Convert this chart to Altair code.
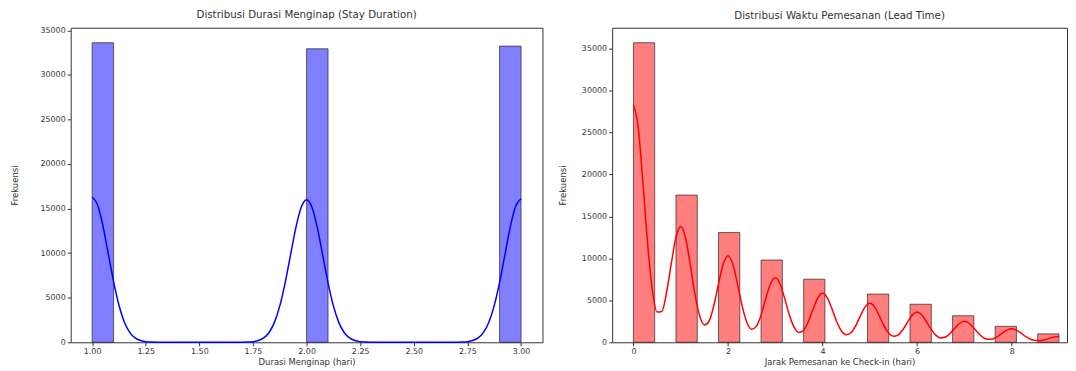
import altair as alt
import pandas as pd

# ---- Left panel: stay duration ----
stay_values = [1, 2, 3]
stay_counts = [33600, 32920, 33220]
stay_bins = 20
stay_range = [1.0, 3.0]

stay_kde_x = [1.0, 1.025, 1.05, 1.075, 1.1, 1.125, 1.15, 1.175, 1.2, 1.225, 1.25, 1.275, 1.3, 1.4, 1.5, 1.6,
              1.7, 1.725, 1.75, 1.775, 1.8, 1.825, 1.85, 1.875, 1.9, 1.925, 1.95, 1.975,
              2.0, 2.025, 2.05, 2.075, 2.1, 2.125, 2.15, 2.175, 2.2, 2.225, 2.25, 2.275, 2.3,
              2.4, 2.5, 2.6,
              2.7, 2.725, 2.75, 2.775, 2.8, 2.825, 2.85, 2.875, 2.9, 2.925, 2.95, 2.975, 3.0]
stay_kde_y = [16300, 15436, 13099, 9959, 6797, 4157, 2275, 1118, 492, 194, 68, 22, 7, 0, 0, 0,
              6, 21, 67, 190, 483, 1098, 2234, 4080, 6672, 9776, 12858, 15152,
              16000, 15152, 12858, 9776, 6672, 4080, 2234, 1098, 483, 190, 67, 21, 6,
              0, 0, 0,
              6, 22, 68, 192, 486, 1104, 2248, 4106, 6714, 9837, 12938, 15247, 16100]

# ---- Right panel: lead time ----
lead_values = [0, 1, 2, 3, 4, 5, 6, 7, 8, 9]
lead_counts = [35700, 17540, 13075, 9800, 7515, 5740, 4530, 3160, 1900, 1000]
lead_bins = 20
lead_range = [0.0, 9.0]

lead_kde_y = [
    28300, 25645, 19127, 11770, 6257, 3596, 3675, 5912, 9366, 12513,
    13800, 12507, 9334, 5768, 3155, 2059, 2531, 4354, 6978, 9337,
    10300, 9335, 6967, 4306, 2355, 1538, 1892, 3254, 5217, 6980,
    7700, 6978, 5209, 3219, 1763, 1158, 1434, 2472, 3963, 5303,
    5850, 5302, 3957, 2447, 1345, 897, 1132, 1963, 3150, 4215,
    4650, 4214, 3145, 1945, 1067, 704, 879, 1520, 2438, 3264,
    3600, 3263, 2435, 1503, 817, 521, 622, 1059, 1694, 2266,
    2500, 2265, 1691, 1043, 564, 351, 403, 679, 1085, 1451,
    1600, 1450, 1081, 665, 354, 197, 191, 301, 476, 635,
    700,
]
lead_kde_x = [round(i * 0.1, 1) for i in range(len(lead_kde_y))]

y_ticks = [0, 5000, 10000, 15000, 20000, 25000, 30000, 35000]
stay_ticks = [1.0, 1.25, 1.5, 1.75, 2.0, 2.25, 2.5, 2.75, 3.0]
lead_ticks = [0, 2, 4, 6, 8]


def hist_table(values, counts, lo, hi, nbins):
    w = (hi - lo) / nbins
    rows = []
    for v, c in zip(values, counts):
        i = min(int((v - lo) / w + 1e-9), nbins - 1)
        rows.append({"start": lo + i * w, "end": lo + (i + 1) * w, "count": c, "zero": 0})
    return pd.DataFrame(rows)


def panel(bars, kde, color, title, xtitle, xdomain, xticks, xfmt, ymax, width, ytitlepad):
    xscale = alt.Scale(domain=xdomain, nice=False, zero=False)
    yscale = alt.Scale(domain=[0, ymax], nice=False)
    xaxis = alt.Axis(values=xticks, format=xfmt, title=xtitle, labelPadding=2, titlePadding=2)
    yaxis = alt.Axis(values=y_ticks, format="d", title="Frekuensi", minExtent=40, maxExtent=40,
                     titlePadding=ytitlepad)
    b = alt.Chart(bars).mark_rect(fill=color, fillOpacity=0.5, stroke="#222", strokeWidth=0.8,
                                  strokeOpacity=0.85).encode(
        x=alt.X("start:Q", scale=xscale, axis=xaxis),
        x2="end:Q",
        y=alt.Y("count:Q", scale=yscale, axis=yaxis),
        y2="zero:Q",
    )
    l = alt.Chart(kde).mark_line(color=color, strokeWidth=1.5, interpolate="monotone").encode(
        x=alt.X("x:Q", scale=xscale, axis=xaxis),
        y=alt.Y("y:Q", scale=yscale, axis=yaxis),
    )
    return alt.layer(b, l).properties(
        width=width, height=316,
        title=alt.TitleParams(title, fontSize=10.3, offset=6, fontWeight="normal", color="#333",
                              font="DejaVu Sans", anchor="middle"),
    )


stay_bars = hist_table(stay_values, stay_counts, stay_range[0], stay_range[1], stay_bins)
lead_bars = hist_table(lead_values, lead_counts, lead_range[0], lead_range[1], lead_bins)
stay_kde = pd.DataFrame({"x": stay_kde_x, "y": stay_kde_y})
lead_kde = pd.DataFrame({"x": lead_kde_x, "y": lead_kde_y})

left = panel(stay_bars, stay_kde, "blue", "Distribusi Durasi Menginap (Stay Duration)",
             "Durasi Menginap (hari)", [0.9, 3.1], stay_ticks, ".2f", 35280, 474, 11)
right = panel(lead_bars, lead_kde, "red", "Distribusi Waktu Pemesanan (Lead Time)",
              "Jarak Pemesanan ke Check-in (hari)", [-0.45, 9.17], lead_ticks, "d", 37485, 457, 5)

chart = alt.hconcat(left, right, spacing=14).configure_view(
    stroke="#333", strokeWidth=1
).configure_axis(
    grid=False, domain=False, tickSize=3.5, tickColor="#333", labelFontSize=8, labelColor="#333",
    titleFontSize=8.5, titleColor="#333", labelFont="DejaVu Sans", titleFont="DejaVu Sans",
    titleFontWeight="normal", labelPadding=2,
).properties(padding={"left": 2, "top": 0, "right": 0, "bottom": 0})

chart.save("out.html", embed_options={"renderer": "svg", "actions": False})
